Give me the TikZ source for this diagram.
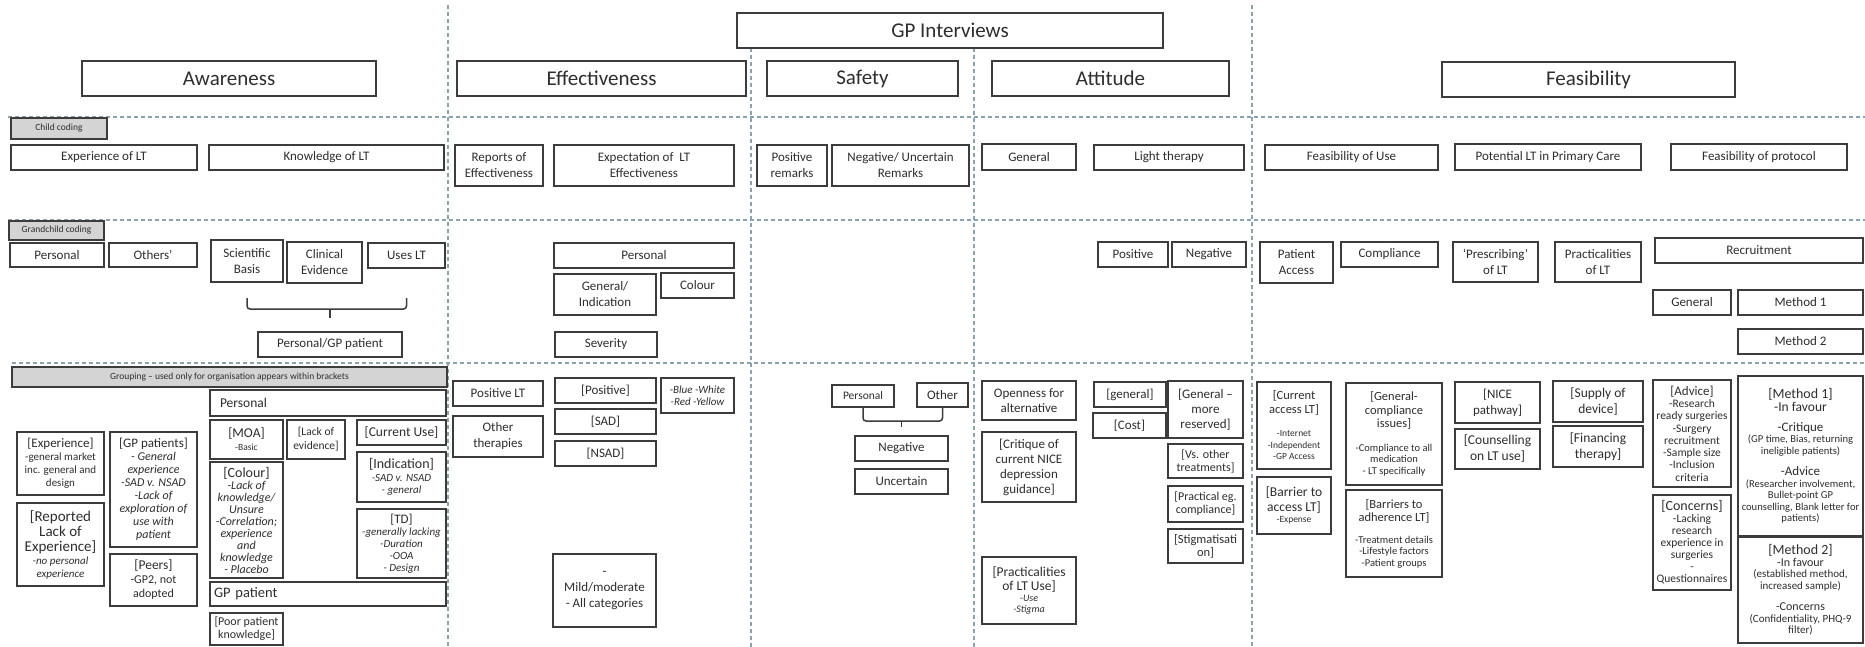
\documentclass[tikz,border=0pt]{standalone}
\usepackage{fontspec}
\setmainfont{Carlito}
\usetikzlibrary{calc}
\definecolor{bc}{HTML}{3C3C3C}
\definecolor{tc}{HTML}{2E2E2E}
\definecolor{dc}{HTML}{8CA2AE}
\definecolor{gf}{HTML}{D4D4D4}
\newcommand{\fs}[1]{\fontsize{#1}{\the\dimexpr #1pt*6/5\relax}\selectfont}
\newcommand{\fl}[2]{\fontsize{#1}{#2}\selectfont}
\newcommand{\hd}[1]{\fs{#1}\upshape}
\newcommand{\bx}[7][]{\node[box,minimum width={(#5-#3)*1pt},minimum height={(#6-#4)*1pt},#1] (#2) at ({(#3+#5)/2},{(#4+#6)/2}) {#7};}
\tikzset{
  box/.style={draw=bc, line width=1.6pt, fill=white, text=tc, align=center, inner sep=1pt, outer sep=0pt, font={\fl{13}{16}}},
  gbox/.style={fill=gf, font={\fs{9.5}}},
  dl/.style={draw=dc, line width=1.2pt, dash pattern=on 4pt off 3pt},
  brc/.style={draw=bc, line width=1.5pt, rounded corners=3pt}
}
\begin{document}
\begin{tikzpicture}[x=1pt,y=-1pt]
\fill[white] (0,0) rectangle (1865,647);
\useasboundingbox (0,0) rectangle (1865,647);
% dashed guide lines
\coordinate (h1a) at (8,117); \coordinate (h1b) at (1865,117);
\coordinate (h2a) at (8,220); \coordinate (h2b) at (1865,220);
\coordinate (h3a) at (12,363); \coordinate (h3b) at (1865,363);
\draw[dl] (h1a) -- (h1b);
\draw[dl] (h2a) -- (h2b);
\draw[dl] (h3a) -- (h3b);
\coordinate (v1a) at (448,5); \coordinate (v1b) at (448,647);
\coordinate (v2a) at (751,48); \coordinate (v2b) at (751,647);
\coordinate (v3a) at (974,48); \coordinate (v3b) at (974,647);
\coordinate (v4a) at (1252,5); \coordinate (v4b) at (1252,647);
\draw[dl] (v1a) -- (v1b);
\draw[dl] (v2a) -- (v2b);
\draw[dl] (v3a) -- (v3b);
\draw[dl] (v4a) -- (v4b);
% top level
\bx[font={\fs{21}}]{gpi}{737}{13}{1163}{48}{GP Interviews}
\bx[font={\fs{21}}]{aw}{82}{61}{376}{96}{Awareness}
\bx[font={\fs{21}}]{eff}{457}{61}{746}{96}{Effectiveness}
\bx[font={\fs{21}}]{saf}{767}{61}{958}{96}{Safety}
\bx[font={\fs{21}}]{att}{992}{61}{1229}{96}{Attitude}
\bx[font={\fs{21}}]{fea}{1442}{62}{1735}{97}{Feasibility}
% level labels
\bx[gbox]{cc}{11}{118}{107}{139}{Child coding}
\bx[gbox]{gc}{9}{221}{104}{240}{Grandchild coding}
\bx[gbox]{gr}{12}{367}{447}{387}{Grouping – used only for organisation appears within brackets}
% child row
\bx{expLT}{11}{145}{197}{170}{Experience of LT}
\bx{knoLT}{209}{145}{444}{170}{Knowledge of LT}
\bx{repEff}{455}{145}{543}{186}{Reports of\\Effectiveness}
\bx{expEff}{554}{145}{734}{186}{Expectation of~~LT\\Effectiveness}
\bx{posRem}{757}{145}{827}{186}{Positive\\remarks}
\bx{negRem}{832}{145}{969}{186}{Negative/ Uncertain\\Remarks}
\bx{gen}{982}{144}{1076}{170}{General}
\bx{lth}{1094}{145}{1244}{170}{Light therapy}
\bx{fUse}{1265}{145}{1438}{170}{Feasibility of Use}
\bx{pot}{1455}{144}{1641}{170}{Potential LT in Primary Care}
\bx{fProt}{1671}{144}{1847}{170}{Feasibility of protocol}
% grandchild row
\bx{pers}{10}{243}{104}{267}{Personal}
\bx{oth}{109}{243}{197}{267}{Others’}
\bx{sci}{211}{240}{283}{282}{Scientific\\Basis}
\bx{cli}{287}{242}{362}{283}{Clinical\\Evidence}
\bx{uses}{368}{243}{445}{268}{Uses LT}
\bx{pgp}{258}{332}{402}{357}{Personal/GP patient}
\bx{ePers}{554}{243}{734}{268}{Personal}
\bx{gInd}{554}{274}{656}{315}{General/\\Indication}
\bx{col}{661}{273}{734}{298}{Colour}
\bx{sev}{555}{332}{657}{357}{Severity}
\bx{aPos}{1098}{242}{1168}{267}{Positive}
\bx{aNeg}{1172}{242}{1246}{267}{Negative}
\bx{pAcc}{1260}{242}{1333}{283}{Patient\\Access}
\bx{comp}{1341}{242}{1438}{267}{Compliance}
\bx{presc}{1453}{242}{1538}{282}{‘Prescribing’\\of LT}
\bx{pract}{1555}{242}{1641}{282}{Practicalities\\of LT}
\bx{recr}{1655}{238}{1863}{263}{Recruitment}
\bx{rGen}{1653}{290}{1731}{315}{General}
\bx{mOne}{1738}{290}{1863}{315}{Method 1}
\bx{mTwo}{1738}{329}{1863}{354}{Method 2}
% brace awareness
\draw[brc] ([yshift=-16pt]sci.south) -- ++(0,11) -| ([yshift=-30pt]uses.south);
\draw[brc] ([yshift=23pt]pgp.north) -- ([yshift=14pt]pgp.north);
% grouping: awareness
\bx[font={\fl{11}{13}}]{gExp}{17}{432}{104}{495}{\hd{13}[Experience]\\-general market\\inc. general and\\design}
\bx[font={\fl{11}{13}\itshape}]{gRep}{17}{503}{104}{586}{\hd{15}[Reported\\[2pt]\hd{15}Lack of\\[2pt]\hd{15}Experience]\\-no personal\\experience}
\bx[font={\fl{12}{13}\itshape}]{gGP}{110}{432}{197}{547}{\hd{13}[GP patients]\\- General\\experience\\-SAD v. NSAD\\-Lack of\\exploration of\\use with\\patient}
\bx[font={\fl{12}{14}}]{gPeers}{110}{554}{197}{606}{\hd{13.5}[Peers]\\-GP2, not\\adopted}
\bx[align=left,text width=216pt,inner xsep=10pt,minimum width=236pt,font={\fs{13.5}}]{gPers}{210}{390}{446}{416}{Personal}
\bx[font={\fl{9.5}{13}}]{gMOA}{210}{420}{283}{459}{\hd{13.5}[MOA]\\-Basic}
\bx[font={\fl{11.5}{14}}]{gLack}{287}{420}{345}{459}{[Lack of\\evidence]}
\bx[font={\fl{13.5}{15}}]{gCur}{357}{420}{446}{445}{[Current Use]}
\bx[font={\fl{12}{12}\itshape}]{gCol}{210}{462}{283}{578}{\hd{14}[Colour]\\-Lack of\\knowledge/\\Unsure\\-Correlation;\\experience\\and\\knowledge\\- Placebo}
\bx[font={\fl{11}{12.5}\itshape}]{gIndi}{357}{452}{446}{502}{\hd{14}[Indication]\\-SAD v. NSAD\\- general}
\bx[font={\fl{11}{12}\itshape}]{gTD}{357}{509}{446}{578}{\hd{13}[TD]\\-generally lacking\\-Duration\\-OOA\\- Design}
\bx[align=left,text width=228pt,inner xsep=4pt,minimum width=236pt,font={\fs{14.5}}]{gGPp}{210}{582}{446}{606}{GP patient}
\bx[font={\fl{12}{13}}]{gPoor}{210}{613}{283}{645}{[Poor patient\\knowledge]}
% grouping: effectiveness
\bx{posLT}{453}{381}{543}{406}{Positive LT}
\bx{othTh}{453}{416}{543}{457}{Other\\therapies}
\bx{bPos}{555}{378}{656}{403}{[Positive]}
\bx{bSAD}{555}{409}{656}{434}{[SAD]}
\bx{bNSAD}{555}{441}{656}{466}{[NSAD]}
\bx[font={\fl{11}{12}\itshape}]{bBlue}{661}{378}{734}{413}{-Blue -White\\-Red -Yellow}
\bx{mild}{553}{554}{656}{627}{-\\Mild/moderate\\- All categories}
% grouping: safety
\bx[font={\fl{11.5}{13}}]{sPers}{832}{385}{894}{407}{Personal}
\bx{sOth}{917}{383}{968}{407}{Other}
\bx{sNeg}{855}{436}{948}{461}{Negative}
\bx{sUnc}{855}{469}{948}{494}{Uncertain}
\draw[brc] (sPers.south) -- ++(0,14) -| (sOth.south);
\draw[brc] ([yshift=15pt]sNeg.north) -- ([yshift=9pt]sNeg.north);
% grouping: attitude
\bx[font={\fl{13}{14.5}}]{open}{982}{381}{1076}{420}{Openness for\\alternative}
\bx[font={\fl{13}{15}}]{crit}{982}{432}{1076}{502}{[Critique of\\current NICE\\depression\\guidance]}
\bx[font={\fl{10}{11}\itshape}]{prLT}{982}{557}{1076}{624}{\hd{13.5}[Practicalities\\[2pt]\hd{13.5}of LT Use]\\-Use\\-Stigma}
\bx{bgen}{1094}{382}{1166}{407}{[general]}
\bx{bcost}{1093}{413}{1166}{438}{[Cost]}
\bx[font={\fl{13}{15}}]{bres}{1168}{381}{1243}{438}{[General –\\more\\reserved]}
\bx[font={\fl{12}{13}}]{bvs}{1168}{444}{1243}{478}{[Vs. other\\treatments]}
\bx[font={\fl{12}{13}}]{bprac}{1168}{486}{1243}{522}{[Practical eg.\\compliance]}
\bx[font={\fl{12.5}{13}}]{bstig}{1168}{529}{1243}{563}{[Stigmatisati\\on]}
% grouping: feasibility
\bx[font={\fl{9.5}{11.5}}]{cacc}{1257}{382}{1331}{469}{\hd{12.5}[Current\\[2pt]\hd{12.5}access LT]\\[12pt]-Internet\\-Independent\\-GP Access}
\bx[font={\fl{9.5}{11.5}}]{bacc}{1257}{477}{1331}{534}{\hd{13.5}[Barrier to\\[2pt]\hd{13.5}access LT]\\-Expense}
\bx[font={\fl{10.5}{11.5}}]{gcomp}{1346}{383}{1442}{485}{\hd{12.5}[General-\\[2pt]\hd{12.5}compliance\\[2pt]\hd{12.5}issues]\\[12pt]-Compliance to all\\medication\\- LT specifically}
\bx[font={\fl{10.5}{11.5}}]{badh}{1346}{490}{1442}{577}{\hd{12.5}[Barriers to\\[2pt]\hd{12.5}adherence LT]\\[10pt]-Treatment details\\-Lifestyle factors\\-Patient groups}
\bx[font={\fl{13}{16}}]{nice}{1455}{382}{1540}{423}{[NICE\\pathway]}
\bx[font={\fl{13.5}{16}}]{couns}{1455}{429}{1540}{469}{[Counselling\\on LT use]}
\bx[font={\fl{13.5}{16}}]{supp}{1553}{381}{1643}{422}{[Supply of\\device]}
\bx[font={\fl{13.5}{16}}]{fin}{1553}{426}{1643}{467}{[Financing\\therapy]}
\bx[font={\fl{11.5}{12.3}}]{adv}{1653}{380}{1731}{487}{\hd{13}[Advice]\\-Research\\ready surgeries\\-Surgery\\recruitment\\-Sample size\\-Inclusion\\criteria}
\bx[font={\fl{11.5}{12}}]{conc}{1653}{495}{1731}{590}{\hd{14}[Concerns]\\-Lacking\\research\\experience in\\surgeries\\-\\Questionnaires}
\bx[font={\fl{10.6}{11.5}}]{methA}{1738}{376}{1863}{536}{\hd{14}[Method 1]\\[2pt]\hd{13.5}-In favour\\[8pt]\hd{13}-Critique\\(GP time, Bias, returning\\ineligible patients)\\[10pt]\hd{13}-Advice\\(Researcher involvement,\\Bullet-point GP\\counselling, Blank letter for\\patients)}
\bx[font={\fl{11}{11.5}}]{methB}{1738}{537}{1863}{643}{\hd{14}[Method 2]\\\hd{12}-In favour\\(established method,\\increased sample)\\[10pt]\hd{12}-Concerns\\(Confidentiality, PHQ-9\\filter)}
\end{tikzpicture}
\end{document}
